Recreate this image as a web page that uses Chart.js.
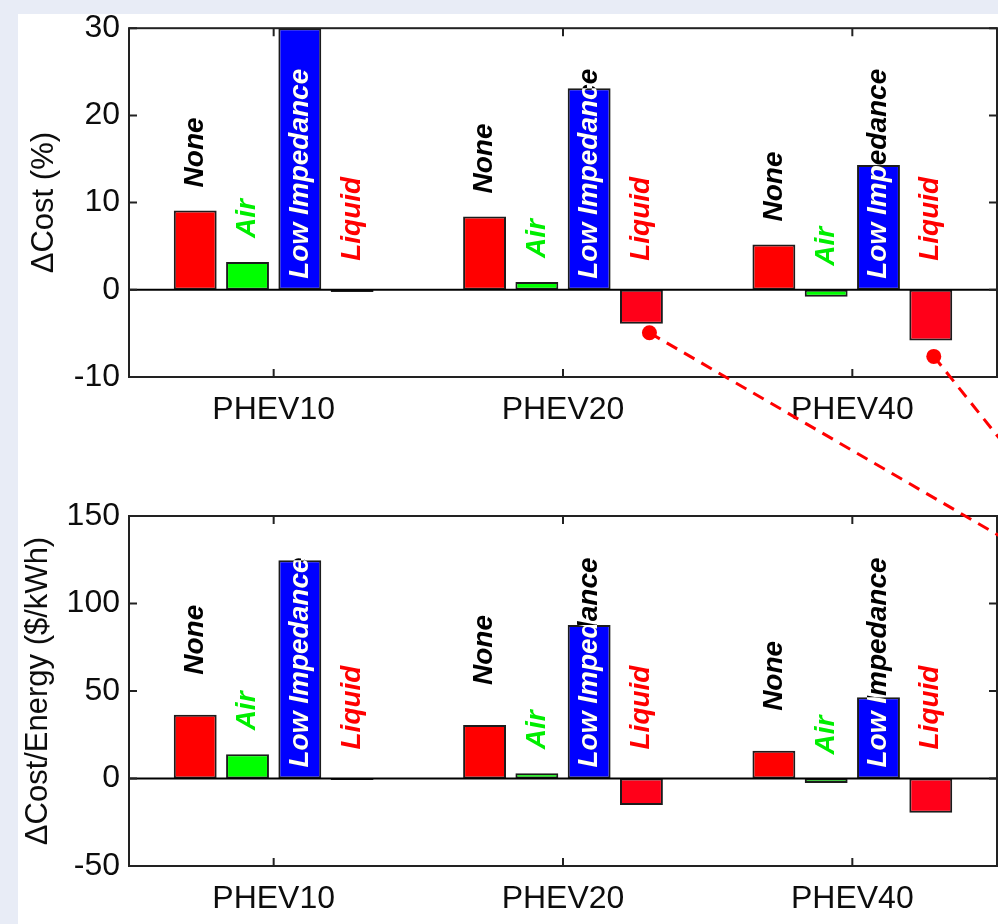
<!DOCTYPE html>
<html>
<head>
<meta charset="utf-8">
<title>Cost change by thermal management</title>
<script src="https://cdn.jsdelivr.net/npm/chart.js@4.4.0/dist/chart.umd.min.js"></script>
<style>
  html, body { margin: 0; padding: 0; }
  body { width: 998px; height: 924px; background: #e8ecf6; position: relative; overflow: hidden; }
  #panel { position: absolute; left: 18px; top: 14px; width: 980px; height: 910px; background: #ffffff; }
  canvas { position: absolute; left: 0; }
  #costChart { top: 0; }
  #energyChart { top: 460px; }
  #overlay { top: 0; pointer-events: none; }
</style>
</head>
<body>
<div id="panel"></div>
<canvas id="costChart" width="998" height="460"></canvas>
<canvas id="energyChart" width="998" height="464"></canvas>
<canvas id="overlay" width="998" height="924"></canvas>
<script>
// --- DATA ---
const categories = ['PHEV10', 'PHEV20', 'PHEV40'];
const seriesNames = ['None', 'Air', 'Low Impedance', 'Liquid'];

// top panel: ΔCost (%)
const costNone = [9.1, 8.4, 5.2];
const costAir = [3.2, 0.9, -0.8];
const costLowImp = [30, 23.1, 14.3];
const costLiquid = [-0.25, -3.9, -5.8];
const costTicks = [-10, 0, 10, 20, 30];

// bottom panel: ΔCost/Energy ($/kWh)
const energyNone = [36.4, 30.6, 15.8];
const energyAir = [13.8, 3.0, -2.6];
const energyLowImp = [124.7, 87.7, 46.5];
const energyLiquid = [-0.8, -15.2, -19.5];
const energyTicks = [-50, 0, 50, 100, 150];

// --- STYLE ---
const FONT = "'Liberation Sans', Arial, Helvetica, sans-serif";
const FRAME = '#222222';
const SERIES_STYLE = [
    { fill: '#ff0000', text: '#000000' },
    { fill: '#00ff00', text: '#00ee00' },
    { fill: '#0000ff', text: '#ffffff', outside: '#000000' },
    { fill: '#ff0019', text: '#ff0000' }
];

Chart.defaults.font.family = FONT;
Chart.defaults.color = '#111111';

// where each rotated label starts (px above its anchor)
function labelBase(series, value, yScale, noneGap) {
    const zero = yScale.getPixelForValue(0);
    if (series === 0) return yScale.getPixelForValue(Math.max(value, 0)) - noneGap;
    if (series === 1) return yScale.getPixelForValue(Math.max(value, 0)) - 24;
    if (series === 2) return zero - 11;
    return zero - 29;
}

// frame, inward ticks, baseline and the rotated bar labels
const matlabAxes = {
    id: 'matlabAxes',
    afterDatasetsDraw(chart, args, opts) {
        const ctx = chart.ctx;
        const area = chart.chartArea;
        const x = chart.scales.x;
        const y = chart.scales.y;
        const zero = y.getPixelForValue(0);

        ctx.save();
        ctx.strokeStyle = '#000000';
        ctx.lineWidth = 2;
        ctx.beginPath();
        ctx.moveTo(area.left, zero);
        ctx.lineTo(area.right, zero);
        ctx.stroke();

        ctx.strokeStyle = FRAME;
        ctx.strokeRect(area.left, area.top, area.right - area.left, area.bottom - area.top);

        const tl = 8;
        ctx.beginPath();
        y.ticks.forEach(t => {
            const py = y.getPixelForValue(t.value);
            ctx.moveTo(area.left, py); ctx.lineTo(area.left + tl, py);
            ctx.moveTo(area.right, py); ctx.lineTo(area.right - tl, py);
        });
        categories.forEach((c, i) => {
            const px = x.getPixelForValue(i);
            ctx.moveTo(px, area.top); ctx.lineTo(px, area.top + tl);
            ctx.moveTo(px, area.bottom); ctx.lineTo(px, area.bottom - tl);
        });
        ctx.stroke();

        // labels
        ctx.font = 'italic bold 28px ' + FONT;
        ctx.textAlign = 'left';
        ctx.textBaseline = 'middle';
        chart.data.datasets.forEach((ds, i) => {
            const meta = chart.getDatasetMeta(i);
            const st = SERIES_STYLE[i];
            meta.data.forEach((bar, j) => {
                const p = bar.getProps(['x', 'y', 'base', 'width'], true);
                const by = labelBase(i, ds.data[j], y, opts.noneGap);
                const draw = (color) => {
                    ctx.save();
                    ctx.translate(p.x, by);
                    ctx.rotate(-Math.PI / 2);
                    ctx.fillStyle = color;
                    ctx.fillText(seriesNames[i], 0, 0);
                    ctx.restore();
                };
                if (st.outside) {
                    draw(st.outside);
                    ctx.save();
                    ctx.beginPath();
                    ctx.rect(p.x - p.width / 2, Math.min(p.y, p.base), p.width, Math.abs(p.base - p.y));
                    ctx.clip();
                    draw(st.text);
                    ctx.restore();
                } else {
                    draw(st.text);
                }
            });
        });
        ctx.restore();
    }
};

function makeChart(id, series, ticks, title, pad) {
    const ctx = document.getElementById(id).getContext('2d');
    return new Chart(ctx, {
        type: 'bar',
        data: {
            labels: categories,
            datasets: series.map((data, i) => ({
                label: seriesNames[i],
                data: data,
                backgroundColor: SERIES_STYLE[i].fill,
                borderColor: '#1c1c1c',
                borderWidth: 2,
                borderSkipped: false,
                categoryPercentage: 0.723,
                barPercentage: 0.82
            }))
        },
        options: {
            responsive: false,
            animation: false,
            events: [],
            layout: { padding: { top: pad.top, right: 1, bottom: 0, left: 0 } },
            plugins: {
                legend: { display: false },
                tooltip: { enabled: false },
                matlabAxes: { noneGap: pad.noneGap }
            },
            scales: {
                x: {
                    grid: { display: false, drawTicks: false },
                    border: { display: false },
                    ticks: { font: { size: 32 }, padding: 14, color: '#0d0d0d' },
                    afterFit: s => { s.height = pad.xHeight; }
                },
                y: {
                    min: ticks[0],
                    max: ticks[ticks.length - 1],
                    grid: { display: false, drawTicks: false },
                    border: { display: false },
                    ticks: { stepSize: ticks[1] - ticks[0], font: { size: 32 }, padding: 9, color: '#0d0d0d' },
                    title: {
                        display: true,
                        text: title,
                        font: { size: 31 },
                        color: '#0d0d0d',
                        padding: { top: pad.titleGap, bottom: 0 }
                    },
                    afterFit: s => { s.width = 129; }
                }
            }
        },
        plugins: [matlabAxes]
    });
}

const costChart = makeChart('costChart',
    [costNone, costAir, costLowImp, costLiquid], costTicks, 'ΔCost (%)',
    { top: 27, xHeight: 83, titleGap: 26, noneGap: 23 });

const energyChart = makeChart('energyChart',
    [energyNone, energyAir, energyLowImp, energyLiquid], energyTicks, 'ΔCost/Energy ($/kWh)',
    { top: 56, xHeight: 58, titleGap: 20, noneGap: 40 });

// --- CALLOUTS (dashed leaders from the Liquid bars, running off the page) ---
const CALLOUTS = [
    { index: 1, dx: 8, dy: 9, slope: 0.58 },
    { index: 2, dx: 3, dy: 16, slope: 1.25 }
];

function drawCallouts() {
    const ctx = document.getElementById('overlay').getContext('2d');
    const meta = costChart.getDatasetMeta(3);
    ctx.strokeStyle = '#ff0000';
    ctx.fillStyle = '#ff0000';
    ctx.lineWidth = 3;
    CALLOUTS.forEach(c => {
        const bar = meta.data[c.index].getProps(['x', 'y', 'base'], true);
        const x0 = bar.x + c.dx;
        const y0 = Math.max(bar.y, bar.base) + c.dy;
        ctx.setLineDash([12, 8]);
        ctx.beginPath();
        ctx.moveTo(x0, y0);
        ctx.lineTo(x0 + 400, y0 + 400 * c.slope);
        ctx.stroke();
        ctx.setLineDash([]);
        ctx.beginPath();
        ctx.arc(x0, y0, 7.5, 0, Math.PI * 2);
        ctx.fill();
    });
}
drawCallouts();
</script>
</body>
</html>
